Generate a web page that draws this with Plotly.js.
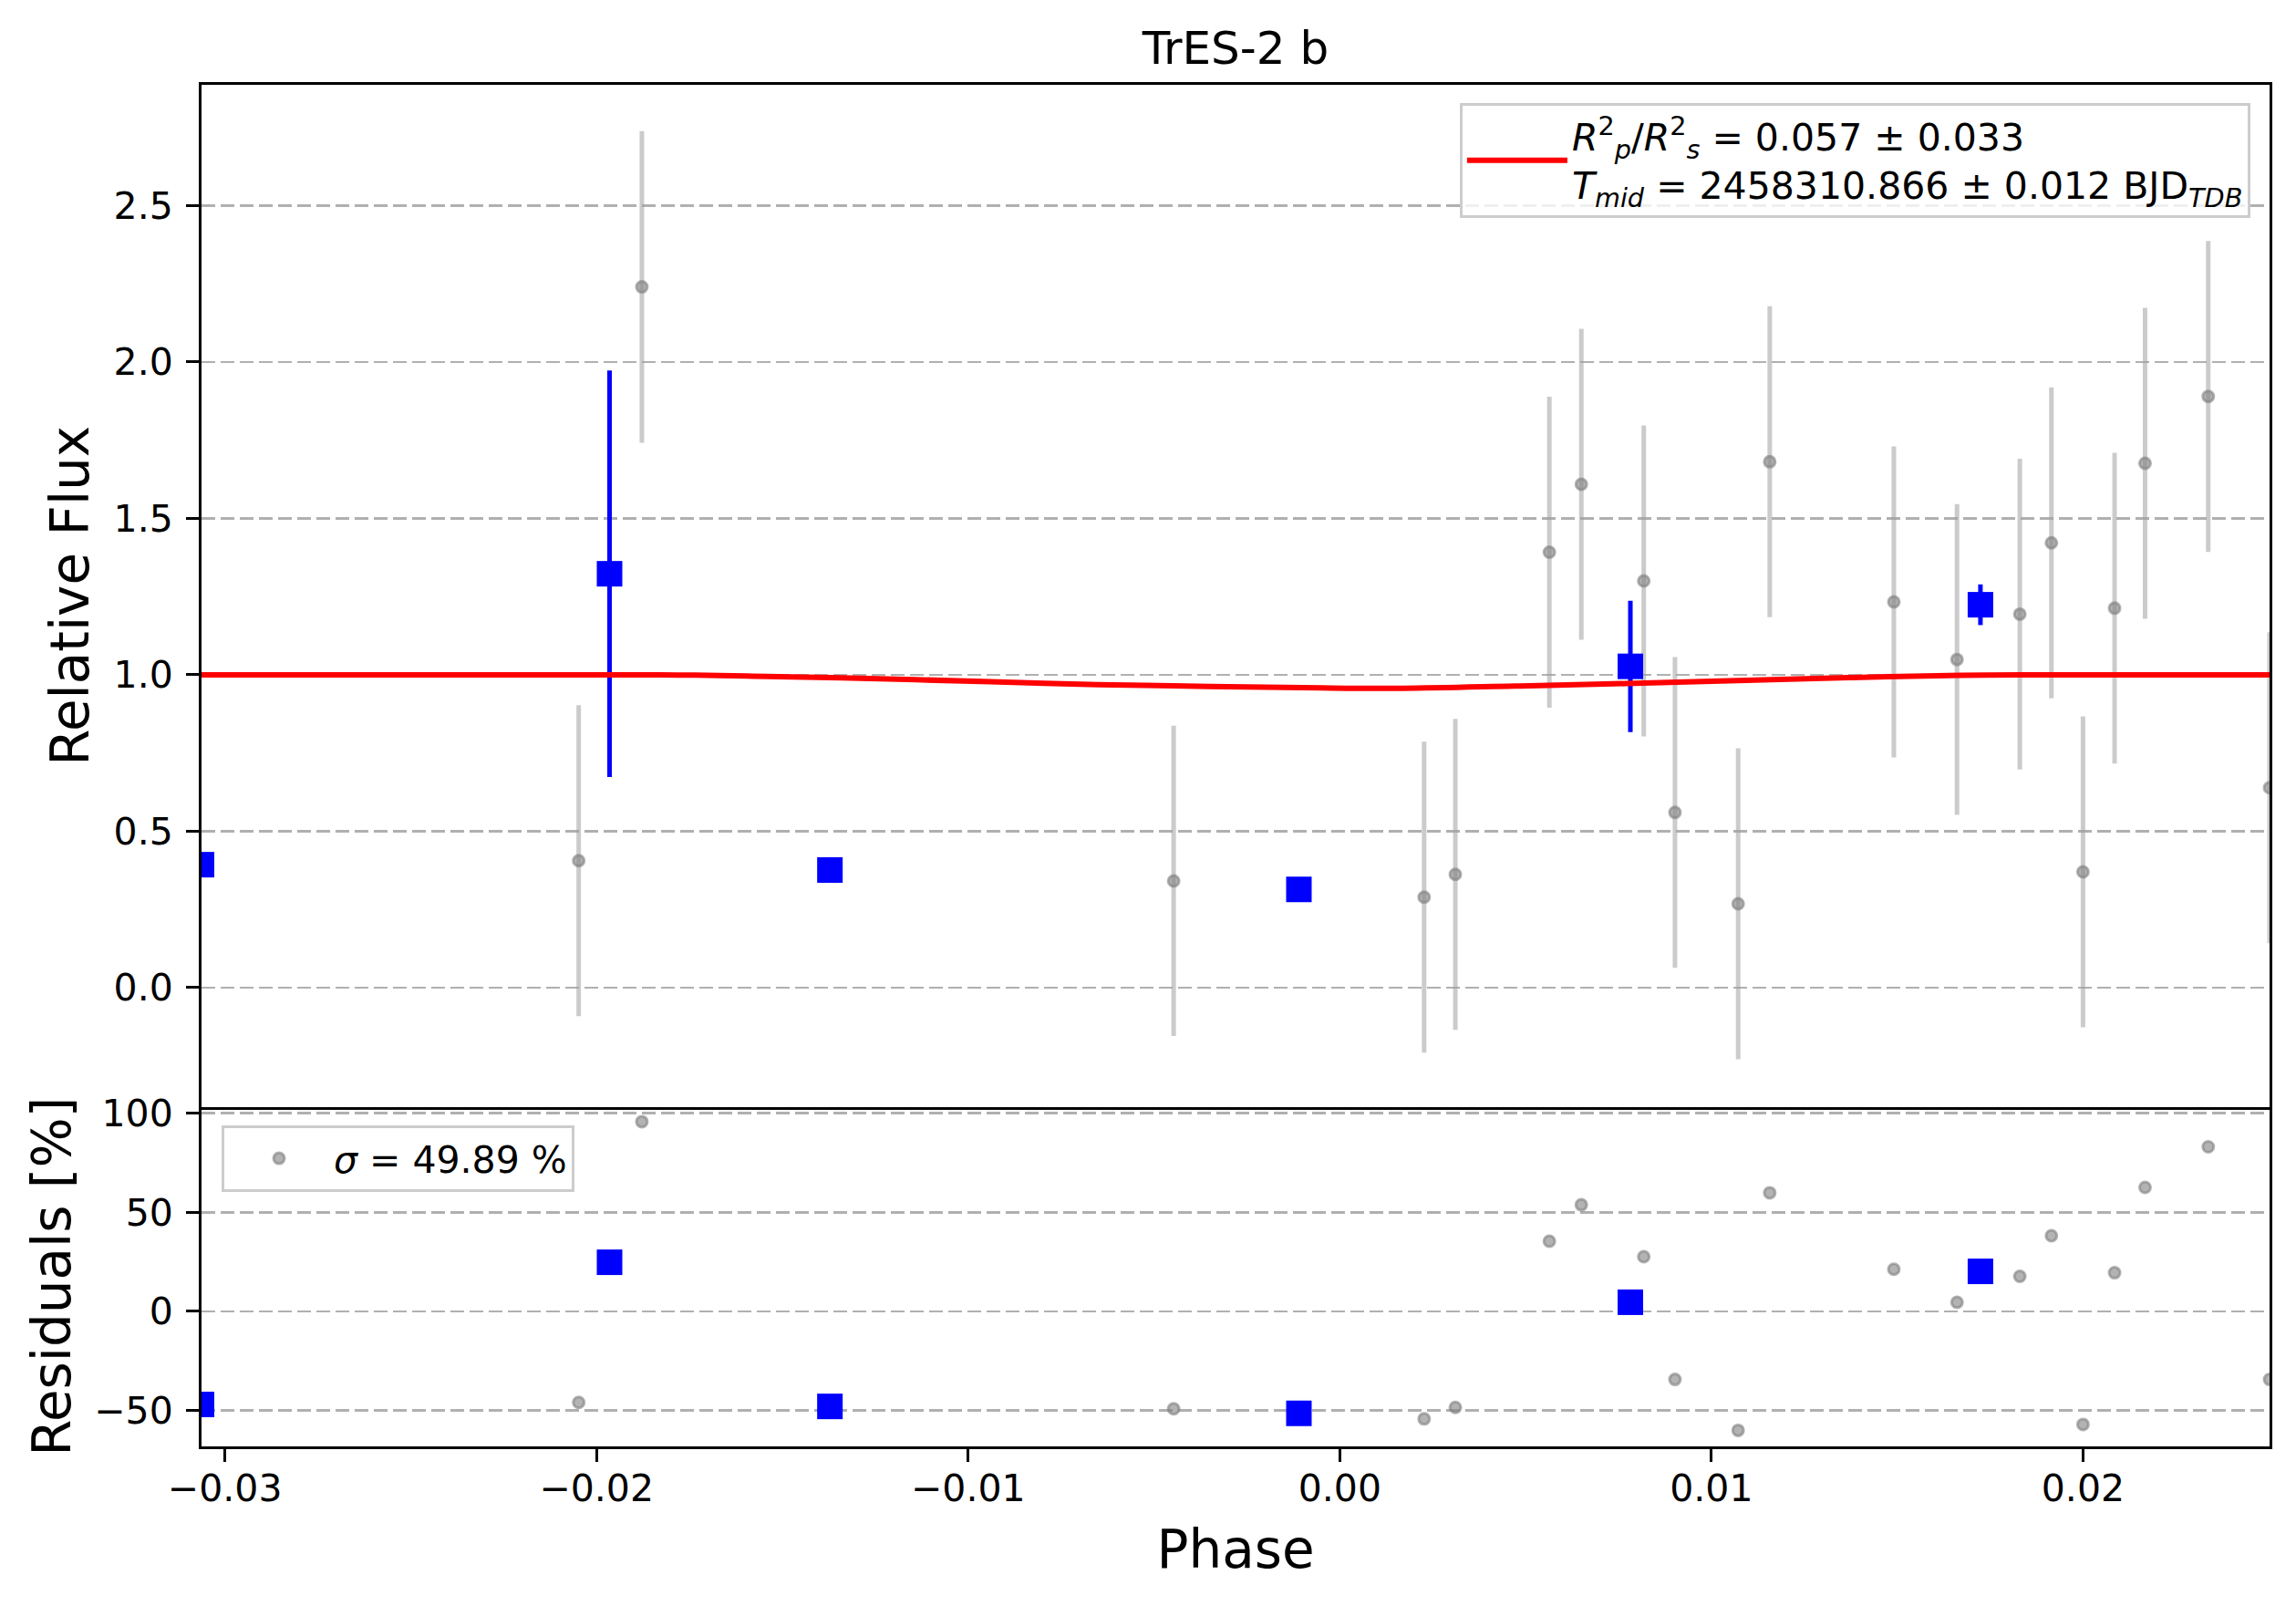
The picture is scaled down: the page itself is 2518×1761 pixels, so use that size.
<!DOCTYPE html>
<html>
<head>
<meta charset="utf-8">
<script src="https://cdn.plot.ly/plotly-3.0.1.min.js"></script>
<style>
  html, body { margin: 0; padding: 0; background: #fff; }
  #chart { width: 2518px; height: 1761px; }
</style>
</head>
<body>
<div id="chart"></div>
<script>
// ── Datos ────────────────────────────────────────────────────────────────────
// Puntos individuales (gris)
const phase    = [-0.02048, -0.01878, -0.00447, 0.00227, 0.00311, 0.00564, 0.00650,
                  0.00818, 0.00902, 0.01072, 0.01157, 0.01491, 0.01661, 0.01830,
                  0.01915, 0.02000, 0.02085, 0.02167, 0.02337, 0.02502];
const flux     = [0.406, 2.240, 0.341, 0.289, 0.362, 1.392, 1.609, 1.300, 0.560, 0.268,
                  1.681, 1.233, 1.049, 1.194, 1.422, 0.370, 1.213, 1.676, 1.890, 0.639];
const fluxErr  = [0.497, 0.498, 0.496, 0.497, 0.497, 0.497, 0.497, 0.497, 0.497, 0.497,
                  0.497, 0.497, 0.497, 0.497, 0.497, 0.497, 0.497, 0.497, 0.497, 0.497];
const resid    = [-46.0, 95.8, -49.2, -54.3, -48.5, 35.4, 53.8, 27.6, -34.4, -60.1,
                  59.9, 21.3, 4.6, 17.7, 38.2, -57.1, 19.5, 62.6, 83.1, -34.4];

// Puntos promediados (azul)
const binPhase = [-0.03063, -0.01965, -0.01372, -0.00110, 0.00782, 0.01724];
const binFlux  = [0.393, 1.323, 0.376, 0.314, 1.027, 1.224];
const binErr   = [0, 0.650, 0, 0, 0.210, 0.065];
const binResid = [-47.0, 24.8, -48.0, -51.5, 4.6, 20.2];

// Modelo de tránsito (rojo)
const modelPhase = [-0.03063, -0.0183, -0.0154, -0.0124, -0.0094, -0.0065, -0.0035,
                    -0.0005, 0.0017, 0.0047, 0.0077, 0.0107, 0.0137, 0.0167, 0.0183, 0.02502];
const modelFlux  = [1.000, 1.000, 0.995, 0.9875, 0.9776, 0.9688, 0.963,
                    0.958, 0.957, 0.964, 0.972, 0.9816, 0.991, 0.998, 1.000, 1.000];

const xTicks     = [-0.03, -0.02, -0.01, 0.00, 0.01, 0.02];
const fluxTicks  = [0.0, 0.5, 1.0, 1.5, 2.0, 2.5];
const residTicks = [-50, 0, 50, 100];

const titleText  = 'TrES-2 b';
const modelLabel = '<i>R</i><sup>2</sup><sub><i>p</i></sub>/<i>R</i><sup>2</sup><sub><i>s</i></sub> = 0.057 ± 0.033<br>' +
                   '<i>T</i><sub><i>mid</i></sub> = 2458310.866 ± 0.012 BJD<sub><i>TDB</i></sub>';
const residLabel = '<i>σ</i> = 49.89 %';

// ── Estilo ───────────────────────────────────────────────────────────────────
const FONT = 'DejaVu Sans, sans-serif';
const C = {
  grey:    'rgba(128,128,128,0.6)',
  errGrey: 'rgba(160,160,160,0.55)',
  blue:    '#0000ff',
  red:     '#ff0000',
  grid:    '#b0b0b0',
};
const X_RANGE = [-0.03063, 0.02502];

function axisBase(extra) {
  return Object.assign({
    showline: true, mirror: true, linecolor: '#000', linewidth: 3,
    zeroline: false, showgrid: false,
    ticks: 'outside', ticklen: 14, tickwidth: 3, tickcolor: '#000',
    tickfont: { family: FONT, size: 41, color: '#000' },
  }, extra);
}

function greyMarker() {
  return { symbol: 'circle', size: 12, color: C.grey,
           line: { color: C.grey, width: 3 } };
}

// ── Trazas ───────────────────────────────────────────────────────────────────
const traces = [
  { // datos individuales con barras de error
    type: 'scatter', mode: 'markers', x: phase, y: flux,
    xaxis: 'x', yaxis: 'y', showlegend: false,
    marker: greyMarker(),
    error_y: { type: 'data', array: fluxErr, visible: true,
               color: C.errGrey, thickness: 5, width: 0 },
  },
  { // datos promediados
    type: 'scatter', mode: 'markers', x: binPhase, y: binFlux,
    xaxis: 'x', yaxis: 'y', showlegend: false,
    marker: { symbol: 'square', size: 28, color: C.blue },
    error_y: { type: 'data', array: binErr, visible: true,
               color: C.blue, thickness: 5, width: 0 },
  },
  { // modelo
    type: 'scatter', mode: 'lines', x: modelPhase, y: modelFlux,
    xaxis: 'x', yaxis: 'y', name: modelLabel, legend: 'legend',
    line: { color: C.red, width: 6, shape: 'spline', smoothing: 1 },
  },
  { // residuos individuales
    type: 'scatter', mode: 'markers', x: phase, y: resid,
    xaxis: 'x2', yaxis: 'y2', name: residLabel, legend: 'legend2',
    marker: greyMarker(),
  },
  { // residuos promediados
    type: 'scatter', mode: 'markers', x: binPhase, y: binResid,
    xaxis: 'x2', yaxis: 'y2', showlegend: false,
    marker: { symbol: 'square', size: 28, color: C.blue },
  },
];

// ── Layout ───────────────────────────────────────────────────────────────────
const SPLIT = 0.2494;   // fracción de altura del panel de residuos

const legendStyle = {
  bgcolor: 'rgba(255,255,255,0.8)', bordercolor: '#cccccc', borderwidth: 3,
  font: { family: FONT, size: 41, color: '#000' },
  itemwidth: 110,
};

const layout = {
  width: 2518, height: 1761,
  paper_bgcolor: '#fff', plot_bgcolor: '#fff',
  margin: { l: 221, r: 29, t: 93, b: 175 },
  font: { family: FONT, color: '#000' },
  title: { text: titleText, x: 0.5, xref: 'paper', xanchor: 'center',
           y: 1 - 52 / 1761, yref: 'container', yanchor: 'middle',
           font: { family: FONT, size: 50, color: '#000' } },
  xaxis: axisBase({ domain: [0, 1], anchor: 'y', range: X_RANGE,
                    ticks: '', showticklabels: false }),
  yaxis: axisBase({ domain: [SPLIT, 1], anchor: 'x', range: [-0.381, 2.886],
                    tickvals: fluxTicks, tickformat: '.1f', ticklabelstandoff: 6,
                    showgrid: true, gridcolor: C.grid, gridwidth: 2.7, griddash: '15px,6px',
                    title: { text: 'Relative Flux', standoff: 9,
                             font: { family: FONT, size: 58, color: '#000' } } }),
  xaxis2: axisBase({ domain: [0, 1], anchor: 'y2', range: X_RANGE, mirror: false,
                     tickvals: xTicks, tickformat: '.2f', ticklabelstandoff: -6,
                     title: { text: 'Phase', standoff: 24,
                              font: { family: FONT, size: 58, color: '#000' } } }),
  yaxis2: axisBase({ domain: [0, SPLIT], anchor: 'x2', range: [-68.2, 103.3],
                     tickvals: residTicks, ticklabelstandoff: 6,
                     showgrid: true, gridcolor: C.grid, gridwidth: 2.7, griddash: '15px,6px',
                     title: { text: 'Residuals [%]', standoff: 7,
                              font: { family: FONT, size: 58, color: '#000' } } }),
  legend: Object.assign({ x: 0.9907, xanchor: 'right', y: 0.9866, yanchor: 'top',
                          xref: 'paper', yref: 'paper' }, legendStyle),
  legend2: Object.assign({ x: 0.0097, xanchor: 'left', y: 0.2358, yanchor: 'top',
                           xref: 'paper', yref: 'paper' }, legendStyle),
  showlegend: true,
  hovermode: false,
};

Plotly.newPlot('chart', traces, layout, { displayModeBar: false, staticPlot: true });
</script>
</body>
</html>
